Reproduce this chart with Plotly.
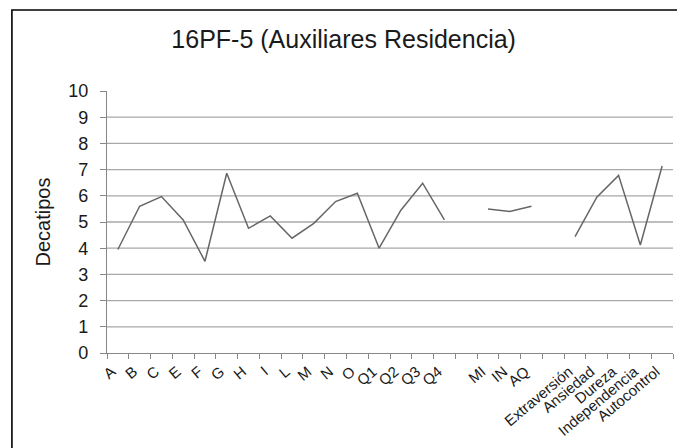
import plotly.graph_objects as go

categories = ["A", "B", "C", "E", "F", "G", "H", "I", "L", "M", "N", "O",
              "Q1", "Q2", "Q3", "Q4", " ", "MI", "IN", "AQ", "  ",
              "Extraversión", "Ansiedad", "Dureza", "Independencia", "Autocontrol"]
decatipos = [3.95, 5.6, 5.97, 5.08, 3.5, 6.86, 4.76, 5.23, 4.38, 4.95, 5.78, 6.1,
             4.0, 5.45, 6.48, 5.08, None, 5.5, 5.4, 5.6, None,
             4.44, 5.95, 6.78, 4.12, 7.14]
y_ticks = list(range(0, 11))
grid_levels = list(range(1, 10))

FONT = "Liberation Sans, Arial, sans-serif"

fig = go.Figure()
fig.add_trace(go.Scatter(
    x=categories, y=decatipos, mode="lines",
    line=dict(color="#666666", width=1.5),
    connectgaps=False, showlegend=False, hoverinfo="skip",
))

shapes = []
for g in grid_levels:
    shapes.append(dict(type="line", xref="paper", yref="y", x0=0, x1=1, y0=g, y1=g,
                       line=dict(color="#a8a8a8", width=1.3), layer="below"))
# chart area border
shapes.append(dict(type="rect", xref="paper", yref="paper",
                   x0=-0.168, x1=1.2, y0=-0.6, y1=1.309,
                   line=dict(color="#000000", width=1.6)))

fig.update_layout(
    width=685, height=448,
    margin=dict(l=99, r=20, t=83, b=103),
    paper_bgcolor="white", plot_bgcolor="white",
    font=dict(family=FONT, color="#1a1a1a"),
    title=dict(text="16PF-5 (Auxiliares Residencia)", x=0.49, xref="container", xanchor="center",
               y=0.931, yref="container", yanchor="middle",
               font=dict(size=25, family=FONT, color="#1a1a1a")),
    shapes=shapes,
)
fig.update_xaxes(
    type="category", categoryorder="array", categoryarray=categories,
    tickson="boundaries", ticks="outside", ticklen=5, tickcolor="#888888",
    showline=True, linecolor="#888888", linewidth=1.3, showgrid=False,
    tickangle=-40, tickfont=dict(size=15, family=FONT, color="#1a1a1a"),
    ticklabelshift=-6, ticklabelstandoff=3,
    range=[-0.5, len(categories) - 0.5], automargin=False,
)
fig.update_yaxes(
    range=[0, 10], tickvals=y_ticks, ticks="outside", ticklen=6, tickcolor="#888888",
    showline=True, linecolor="#888888", linewidth=1.3, showgrid=False, zeroline=False,
    ticklabelstandoff=8, automargin=False,
    tickfont=dict(size=18, family=FONT, color="#1a1a1a"),
    title=dict(text="Decatipos", font=dict(size=20, family=FONT, color="#1a1a1a"), standoff=12),
)

fig.write_html("out.html")
